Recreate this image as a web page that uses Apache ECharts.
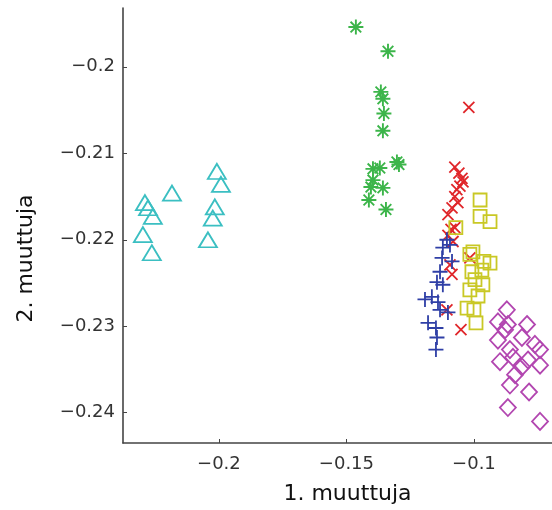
<!DOCTYPE html>
<html>
<head>
  <meta charset="utf-8">
  <title>muuttujat</title>
  <script src="https://cdn.jsdelivr.net/npm/echarts@6/dist/echarts.min.js"></script>
  <style>
    body { margin: 0; background: #fff; }
    #chart { width: 552px; height: 510px; }
  </style>
</head>
<body>
  <div id="chart"></div>
  <script>
    // pisteet: [1. muuttuja, 2. muuttuja]
    const cyanTriangles = [
      [-0.2008, -0.2121], [-0.1992, -0.2136], [-0.2184, -0.2146], [-0.2290, -0.2157],
      [-0.2278, -0.2163], [-0.2259, -0.2173], [-0.2016, -0.2162], [-0.2024, -0.2175],
      [-0.2298, -0.2194], [-0.2043, -0.2200], [-0.2263, -0.2215]
    ];
    const greenStars = [
      [-0.1463, -0.1954], [-0.1337, -0.1982], [-0.1365, -0.2029], [-0.1357, -0.2037],
      [-0.1353, -0.2054], [-0.1357, -0.2074], [-0.1302, -0.2110], [-0.1294, -0.2113],
      [-0.1396, -0.2118], [-0.1369, -0.2117], [-0.1404, -0.2139], [-0.1357, -0.2140],
      [-0.1412, -0.2154], [-0.1345, -0.2165], [-0.1396, -0.2131]
    ];
    const redCrosses = [
      [-0.1020, -0.2047], [-0.1075, -0.2116], [-0.1059, -0.2123], [-0.1047, -0.2129],
      [-0.1043, -0.2133], [-0.1055, -0.2138], [-0.1067, -0.2142], [-0.1075, -0.2150],
      [-0.1063, -0.2157], [-0.1086, -0.2163], [-0.1102, -0.2171], [-0.1075, -0.2186],
      [-0.1090, -0.2188], [-0.1102, -0.2195], [-0.1082, -0.2202], [-0.1016, -0.2221],
      [-0.1094, -0.2229], [-0.1086, -0.2240], [-0.1106, -0.2281], [-0.1051, -0.2304]
    ];
    const yellowSquares = [
      [-0.0976, -0.2154], [-0.0976, -0.2173], [-0.0937, -0.2179], [-0.1071, -0.2186],
      [-0.1004, -0.2214], [-0.1016, -0.2217], [-0.0937, -0.2227], [-0.0961, -0.2225],
      [-0.0969, -0.2235], [-0.1008, -0.2237], [-0.0996, -0.2246], [-0.0965, -0.2252],
      [-0.1016, -0.2258], [-0.0984, -0.2265], [-0.1027, -0.2279], [-0.1000, -0.2281],
      [-0.0992, -0.2296]
    ];
    const bluePluses = [
      [-0.1106, -0.2200], [-0.1094, -0.2206], [-0.1122, -0.2209], [-0.1125, -0.2221],
      [-0.1086, -0.2225], [-0.1133, -0.2237], [-0.1145, -0.2249], [-0.1122, -0.2252],
      [-0.1165, -0.2266], [-0.1192, -0.2269], [-0.1141, -0.2272], [-0.1133, -0.2281],
      [-0.1102, -0.2284], [-0.1180, -0.2296], [-0.1149, -0.2302], [-0.1145, -0.2313],
      [-0.1149, -0.2327]
    ];
    const magentaDiamonds = [
      [-0.0871, -0.2281], [-0.0906, -0.2295], [-0.0867, -0.2298], [-0.0792, -0.2298],
      [-0.0878, -0.2304], [-0.0812, -0.2313], [-0.0761, -0.2321], [-0.0906, -0.2316],
      [-0.0859, -0.2327], [-0.0741, -0.2327], [-0.0847, -0.2336], [-0.0788, -0.2339],
      [-0.0898, -0.2341], [-0.0812, -0.2347], [-0.0741, -0.2345], [-0.0839, -0.2356],
      [-0.0859, -0.2368], [-0.0784, -0.2376], [-0.0867, -0.2394], [-0.0741, -0.2410]
    ];
    const xTicks = [-0.2, -0.15, -0.1];
    const yTicks = [-0.24, -0.23, -0.22, -0.21, -0.2];

    const crossPath = 'path://M0,0L10,10M10,0L0,10';
    const plusPath = 'path://M5,0L5,10M0,5L10,5';
    const starPath = 'path://M5,0L5,10M0,5L10,5M1.46,1.46L8.54,8.54M8.54,1.46L1.46,8.54';

    function fmt(v) {
      return String(+v.toFixed(3)).replace('-', '\u2212');
    }

    function group(data, symbol, size, color, width) {
      return {
        type: 'scatter',
        data: data,
        symbol: symbol,
        symbolSize: size,
        itemStyle: { color: 'rgba(0,0,0,0)', borderColor: color, borderWidth: width, opacity: 1 },
        emphasis: { disabled: true },
        animation: false
      };
    }

    const chart = echarts.init(document.getElementById('chart'));
    chart.setOption({
      backgroundColor: '#fff',
      grid: { left: 123, right: 0, top: 8, bottom: 67 },
      xAxis: {
        type: 'value',
        min: -0.2376,
        max: -0.0694,
        name: '1. muuttuja',
        nameLocation: 'middle',
        nameGap: 40,
        nameTextStyle: { fontFamily: 'DejaVu Sans', fontSize: 22, color: '#111', padding: [0, 0, 0, 20] },
        axisLine: { lineStyle: { color: '#444', width: 1.6 } },
        axisTick: { inside: true, length: 4, lineStyle: { color: '#444' }, customValues: xTicks },
        axisLabel: {
          customValues: xTicks, formatter: fmt, margin: 12,
          fontFamily: 'DejaVu Sans', fontSize: 18, color: '#333'
        },
        splitLine: { show: false }
      },
      yAxis: {
        type: 'value',
        min: -0.2435,
        max: -0.1932,
        name: '2. muuttuja',
        nameLocation: 'middle',
        nameGap: 86,
        nameTextStyle: { fontFamily: 'DejaVu Sans', fontSize: 22, color: '#111', padding: [0, 66, 0, 0] },
        axisLine: { lineStyle: { color: '#444', width: 1.6 } },
        axisTick: { inside: true, length: 4, lineStyle: { color: '#444' }, customValues: yTicks },
        axisLabel: {
          customValues: yTicks, formatter: fmt, margin: 8,
          fontFamily: 'DejaVu Sans', fontSize: 18, color: '#333'
        },
        splitLine: { show: false }
      },
      series: [
        group(cyanTriangles, 'triangle', [18, 15], '#3bbfc2', 1.8),
        group(greenStars, starPath, 15, '#3cb54a', 1.9),
        group(redCrosses, crossPath, 11, '#e0262a', 1.8),
        group(yellowSquares, 'rect', 13, '#c9c825', 1.8),
        group(bluePluses, plusPath, 15, '#2f3fa6', 1.8),
        group(magentaDiamonds, 'diamond', [16, 17], '#b246b0', 1.8)
      ]
    });
  </script>
</body>
</html>
